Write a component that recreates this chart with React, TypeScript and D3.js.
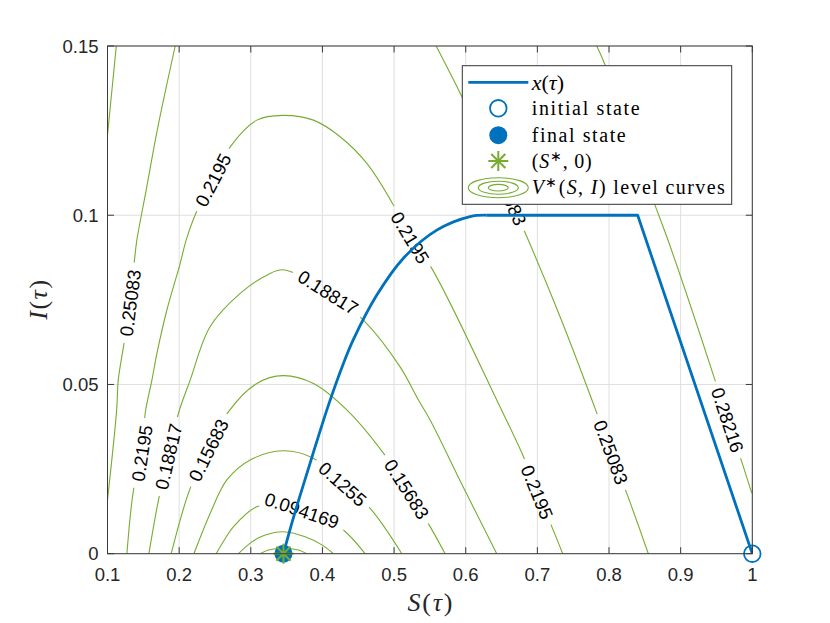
import React from 'react'
import * as d3 from 'd3'

const W = 830
const H = 623

const xTicks = [0.1, 0.2, 0.3, 0.4, 0.5, 0.6, 0.7, 0.8, 0.9, 1]
const yTicks = [0, 0.05, 0.1, 0.15]

const sStar = 0.3456

// trajectory x(tau): curved climb from the final state, then the two straight legs
const arcS = [0.3456, 0.3573, 0.3682, 0.3856, 0.4084, 0.4293, 0.4433, 0.4759, 0.513, 0.5596, 0.6061, 0.6294]
const arcI = [0, 0.009, 0.0168, 0.0287, 0.0439, 0.0562, 0.0633, 0.0764, 0.0873, 0.0956, 0.0996, 0.1]
const legS = [0.6294, 0.84, 1]
const legI = [0.1, 0.1, 0]

const initialS = 1
const initialI = 0
const finalS = 0.3456
const finalI = 0

// V*(S,I) level values
const levels = [0.031505, 0.062837, 0.094169, 0.1255, 0.15683, 0.18817, 0.2195, 0.25083, 0.28216]

// contour pieces (level index, S points, I points)
const curveLevel = [0, 1, 2, 3, 4, 5, 6, 7, 7, 8, 8]
const curveS = [
  [0.3131, 0.3247, 0.3456, 0.3665, 0.3782],
  [0.2828, 0.3015, 0.3201, 0.3456, 0.3759, 0.3992, 0.4153],
  [0.2517, 0.2643, 0.2759, 0.3085, 0.3452, 0.3713, 0.4, 0.4293, 0.4596],
  [0.2206, 0.2433, 0.2666, 0.2991, 0.3447, 0.3874, 0.4282, 0.4666, 0.5108],
  [0.1889, 0.2154, 0.241, 0.2687, 0.3085, 0.3447, 0.3874, 0.434, 0.4851, 0.5178, 0.5503, 0.5712],
  [0.1578, 0.1712, 0.1852, 0.1991, 0.2154, 0.2433, 0.2852, 0.3224, 0.3452, 0.408, 0.4572, 0.5084, 0.534, 0.5503, 0.5963, 0.6433],
  [0.1271, 0.1363, 0.148, 0.1526, 0.162, 0.169, 0.1829, 0.2015, 0.2099, 0.2234, 0.2475, 0.2713, 0.3085, 0.3447, 0.3874, 0.4247, 0.462, 0.4991, 0.5224, 0.5526, 0.6433, 0.6805, 0.6996, 0.7201, 0.7354],
  [0.1945, 0.1694, 0.154, 0.141, 0.1377, 0.1317, 0.1223, 0.115, 0.1128, 0.1],
  [0.5587, 0.5945, 0.6581, 0.68, 0.7317, 0.7829, 0.8028, 0.8247, 0.8549],
  [0.1123, 0.1062, 0.1],
  [0.7829, 0.7945, 0.8642, 0.8824, 0.9479, 0.9654, 0.9852, 0.9992],
]
const curveI = [
  [0, 0.0011, 0.0016, 0.0011, 0],
  [0, 0.0035, 0.0055, 0.0065, 0.005, 0.0026, 0],
  [0, 0.0045, 0.008, 0.0139, 0.0144, 0.0128, 0.0105, 0.007, 0],
  [0, 0.0119, 0.0218, 0.0277, 0.0304, 0.0282, 0.0206, 0.0134, 0],
  [0, 0.0193, 0.0306, 0.0419, 0.0503, 0.0526, 0.0503, 0.0425, 0.0297, 0.0191, 0.008, 0],
  [0, 0.0159, 0.0287, 0.0415, 0.0513, 0.0671, 0.0769, 0.0823, 0.0839, 0.0772, 0.069, 0.0552, 0.0454, 0.0395, 0.0198, 0],
  [0, 0.0188, 0.0297, 0.0415, 0.0513, 0.0592, 0.072, 0.0858, 0.0927, 0.1006, 0.1104, 0.1202, 0.1281, 0.1295, 0.1281, 0.1232, 0.1153, 0.103, 0.0934, 0.0843, 0.0454, 0.0287, 0.0182, 0.008, 0],
  [0.15, 0.1251, 0.1074, 0.0927, 0.0868, 0.0741, 0.0612, 0.0513, 0.0425, 0.0159],
  [0.15, 0.1351, 0.1063, 0.0962, 0.07, 0.0416, 0.03, 0.0179, 0],
  [0.15, 0.137, 0.1237],
  [0.15, 0.1444, 0.103, 0.0926, 0.0513, 0.0395, 0.0272, 0.0179],
]

// inline contour labels
const labelLevel = [6, 6, 6, 6, 5, 5, 4, 4, 3, 2, 7, 7, 7, 8]
const labelS = [0.2475, 0.5224, 0.6996, 0.148, 0.1852, 0.408, 0.241, 0.5178, 0.4282, 0.3713, 0.1317, 0.6581, 0.8028, 0.9654]
const labelI = [0.1104, 0.0934, 0.0182, 0.0297, 0.0287, 0.0772, 0.0306, 0.0191, 0.0206, 0.0128, 0.0741, 0.1063, 0.03, 0.0395]

const BLUE = '#0072BD'
const GREEN = '#77AC30'
const INK = '#262626'
const SANS = '"Liberation Sans", Arial, sans-serif'
const SERIF = '"Liberation Serif", "Times New Roman", serif'

const margin = { left: 107.5, right: 77.7, top: 46, bottom: 69.3 }
const x = d3.scaleLinear().domain([0.1, 1]).range([margin.left, W - margin.right])
const y = d3.scaleLinear().domain([0, 0.15]).range([H - margin.bottom, margin.top])

const smooth = d3.line<[number, number]>()
  .x(d => x(d[0]))
  .y(d => y(d[1]))
  .curve(d3.curveCatmullRom.alpha(0.5))
const straight = d3.line<[number, number]>()
  .x(d => x(d[0]))
  .y(d => y(d[1]))

const zip = (a: number[], b: number[]) => a.map((v, i) => [v, b[i]] as [number, number])

const LABEL_FS = 18.5
const labelWidth = (t: string) =>
  t.split('').reduce((w, c) => w + (c === '.' ? 0.278 : 0.556), 0) * LABEL_FS

// place each label on its contour, turned along the local direction
const labels = labelLevel.map((lv, k) => {
  const px = x(labelS[k])
  const py = y(labelI[k])
  let best = { d: Infinity, ang: 0 }
  curveLevel.forEach((cl, c) => {
    if (cl !== lv) return
    const pts = zip(curveS[c], curveI[c]).map(p => [x(p[0]), y(p[1])])
    pts.forEach((p, i) => {
      const d = Math.hypot(p[0] - px, p[1] - py)
      if (d < best.d) {
        const a = pts[Math.max(0, i - 1)]
        const b = pts[Math.min(pts.length - 1, i + 1)]
        let ang = (Math.atan2(b[1] - a[1], b[0] - a[0]) * 180) / Math.PI
        if (ang > 90) ang -= 180
        if (ang <= -90) ang += 180
        best = { d, ang }
      }
    })
  })
  const text = String(levels[lv])
  return { px, py, ang: best.ang, text, w: labelWidth(text) }
})

const Asterisk: React.FC<{ cx: number; cy: number; r: number }> = ({ cx, cy, r }) => {
  const d = r * Math.SQRT1_2
  return (
    <g stroke={GREEN} strokeWidth={2} strokeLinecap="butt">
      <line x1={cx - r} y1={cy} x2={cx + r} y2={cy} />
      <line x1={cx} y1={cy - r} x2={cx} y2={cy + r} />
      <line x1={cx - d} y1={cy - d} x2={cx + d} y2={cy + d} />
      <line x1={cx - d} y1={cy + d} x2={cx + d} y2={cy - d} />
    </g>
  )
}

const App: React.FC = () => {
  const x0 = x(0.1)
  const x1 = x(1)
  const y0 = y(0)
  const y1 = y(0.15)

  const lg = { left: 462.3, top: 65.7, right: 731.7, bottom: 204.3 }
  const rows = [82.3, 108.3, 135.2, 161, 187.7]
  const iconX = 498.3
  const textX = 531.7
  const legendFs = 20

  return (
    <svg width={W} height={H} style={{ position: 'absolute', left: 0, top: 0, background: '#fff' }}>
      <defs>
        <clipPath id="plot">
          <rect x={x0} y={y1} width={x1 - x0} height={y0 - y1} />
        </clipPath>
        <mask id="gaps" maskUnits="userSpaceOnUse" x={0} y={0} width={W} height={H}>
          <rect x={0} y={0} width={W} height={H} fill="white" />
          {labels.map((l, k) => (
            <rect
              key={k}
              transform={`translate(${l.px},${l.py}) rotate(${l.ang})`}
              x={-l.w / 2 - 7}
              y={-LABEL_FS * 0.5}
              width={l.w + 14}
              height={LABEL_FS}
              fill="black"
            />
          ))}
        </mask>
      </defs>
      <rect x={0} y={0} width={W} height={H} fill="#fff" />

      {/* grid */}
      <g stroke="#dfdfdf" strokeWidth={1}>
        {xTicks.map(t => (
          <line key={'gx' + t} x1={x(t)} x2={x(t)} y1={y1} y2={y0} />
        ))}
        {yTicks.map(t => (
          <line key={'gy' + t} x1={x0} x2={x1} y1={y(t)} y2={y(t)} />
        ))}
      </g>

      {/* level curves */}
      <g clipPath="url(#plot)">
        <g mask="url(#gaps)" fill="none" stroke={GREEN} strokeWidth={1.1}>
          {curveS.map((s, c) => (
            <path key={c} d={smooth(zip(s, curveI[c])) || ''} />
          ))}
        </g>
      </g>
      <g fontFamily={SANS} fontSize={LABEL_FS} fill="#000">
        {labels.map((l, k) => (
          <text key={k} transform={`translate(${l.px},${l.py}) rotate(${l.ang})`} textAnchor="middle" dy="0.36em">
            {l.text}
          </text>
        ))}
      </g>

      {/* trajectory */}
      <g clipPath="url(#plot)" fill="none" stroke={BLUE} strokeWidth={2.8} strokeLinejoin="round">
        <path d={smooth(zip(arcS, arcI)) || ''} />
        <path d={straight(zip(legS, legI)) || ''} />
      </g>
      <circle cx={x(finalS)} cy={y(finalI)} r={9} fill={BLUE} />
      <Asterisk cx={x(sStar)} cy={y(0)} r={10} />
      <circle cx={x(initialS)} cy={y(initialI)} r={8.3} fill="none" stroke={BLUE} strokeWidth={1.8} />

      {/* axes box and ticks */}
      <g stroke="#3a3a3a" strokeWidth={1} fill="none">
        <rect x={x0} y={y1} width={x1 - x0} height={y0 - y1} />
        {xTicks.map(t => (
          <g key={'tx' + t}>
            <line x1={x(t)} x2={x(t)} y1={y0} y2={y0 - 6.5} />
            <line x1={x(t)} x2={x(t)} y1={y1} y2={y1 + 6.5} />
          </g>
        ))}
        {yTicks.map(t => (
          <g key={'ty' + t}>
            <line x1={x0} x2={x0 + 6.5} y1={y(t)} y2={y(t)} />
            <line x1={x1} x2={x1 - 6.5} y1={y(t)} y2={y(t)} />
          </g>
        ))}
      </g>
      <g fontFamily={SANS} fontSize={18.5} fill={INK}>
        {xTicks.map(t => (
          <text key={'lx' + t} x={x(t)} y={y0 + 27} textAnchor="middle">
            {d3.format('~g')(t)}
          </text>
        ))}
        {yTicks.map(t => (
          <text key={'ly' + t} x={x0 - 9} y={y(t)} dy="0.36em" textAnchor="end">
            {d3.format('~g')(t)}
          </text>
        ))}
      </g>

      {/* axis titles */}
      <text
        x={(x0 + x1) / 2}
        y={611}
        textAnchor="middle"
        fontFamily={SERIF}
        fontSize={26}
        fill={INK}
        textLength={45}
        lengthAdjust="spacing"
      >
        <tspan fontStyle="italic">S</tspan>(<tspan fontStyle="italic">τ</tspan>)
      </text>
      <text
        transform={`translate(47,${(y0 + y1) / 2}) rotate(-90)`}
        textAnchor="middle"
        fontFamily={SERIF}
        fontSize={26}
        fill={INK}
        textLength={40}
        lengthAdjust="spacing"
      >
        <tspan fontStyle="italic">I</tspan>(<tspan fontStyle="italic">τ</tspan>)
      </text>

      {/* legend */}
      <rect
        x={lg.left}
        y={lg.top}
        width={lg.right - lg.left}
        height={lg.bottom - lg.top}
        fill="#fff"
        stroke="#333"
        strokeWidth={1}
      />
      <line x1={468.3} x2={528.3} y1={rows[0]} y2={rows[0]} stroke={BLUE} strokeWidth={2.8} />
      <circle cx={iconX} cy={rows[1]} r={8.3} fill="none" stroke={BLUE} strokeWidth={1.8} />
      <circle cx={iconX} cy={rows[2]} r={9} fill={BLUE} />
      <Asterisk cx={iconX} cy={rows[3]} r={10} />
      <g fill="none" stroke={GREEN} strokeWidth={1.1}>
        <ellipse cx={iconX} cy={rows[4]} rx={30} ry={10} />
        <ellipse cx={iconX} cy={rows[4]} rx={20} ry={6.5} />
        <ellipse cx={iconX} cy={rows[4]} rx={10} ry={3.3} />
      </g>
      <g fontFamily={SERIF} fontSize={legendFs} fill="#000">
        <text x={textX} y={rows[0]} dy="0.33em" fontSize={22}>
          <tspan fontStyle="italic">x</tspan>(<tspan fontStyle="italic">τ</tspan>)
        </text>
        <text x={textX} y={rows[1]} dy="0.33em" textLength={108} lengthAdjust="spacing">
          initial state
        </text>
        <text x={textX} y={rows[2]} dy="0.33em" textLength={94} lengthAdjust="spacing">
          final state
        </text>
        <text x={textX} y={rows[3]} dy="0.33em" textLength={60} lengthAdjust="spacing">
          (<tspan fontStyle="italic">S</tspan>
          <tspan dy={-7} fontSize={14}>∗</tspan>
          <tspan dy={7}>, 0)</tspan>
        </text>
        <text x={textX} y={rows[4]} dy="0.33em" textLength={193} lengthAdjust="spacing">
          <tspan fontStyle="italic">V</tspan>
          <tspan dy={-7} fontSize={14}>∗</tspan>
          <tspan dy={7}>(</tspan>
          <tspan fontStyle="italic">S</tspan>, <tspan fontStyle="italic">I</tspan>) level curves
        </text>
      </g>
    </svg>
  )
}

export default App
